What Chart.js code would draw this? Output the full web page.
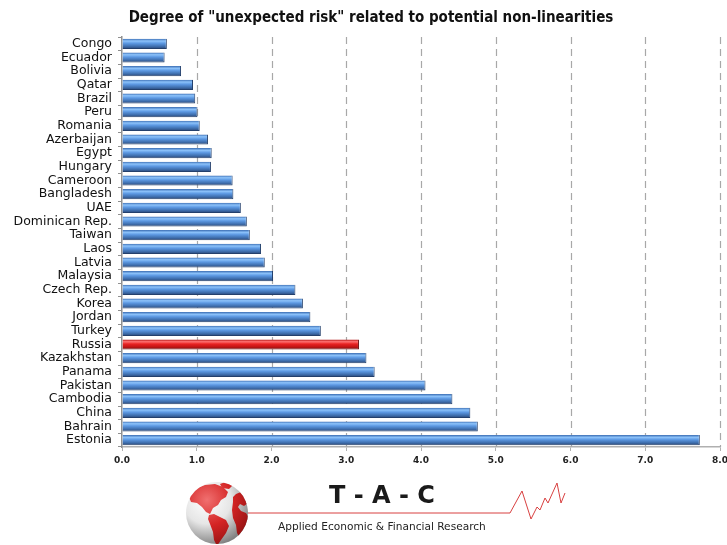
<!DOCTYPE html>
<html>
<head>
<meta charset="utf-8">
<script src="https://cdn.jsdelivr.net/npm/chart.js@4.4.1/dist/chart.umd.min.js"></script>
<style>
    /* page frame */
    html, body { margin: 0; padding: 0; background: #fff; }
    #wrap { position: relative; width: 727px; height: 545px; overflow: hidden; }
    #wrap canvas { position: absolute; left: 0; top: 0; }
    /* title and logo block */
    .title { position: absolute; left: 0; top: 8px; width: 742px; text-align: center; font: bold 15px 'DejaVu Sans Condensed', 'DejaVu Sans', sans-serif; color: #111; white-space: nowrap; }
    .logo-art { position: absolute; left: 0; top: 0; width: 727px; height: 545px; pointer-events: none; }
    .tac { position: absolute; left: 329px; top: 481px; font: bold 24px 'DejaVu Sans', sans-serif; color: #1a1a1a; white-space: pre; }
    .sub { position: absolute; left: 278px; top: 520px; font: 10.6px 'DejaVu Sans', sans-serif; color: #222; white-space: nowrap; }
</style>
</head>
<body>
<div id="wrap">
    <canvas id="riskChart" width="727" height="545"></canvas>
    <div class="title">Degree of "unexpected risk" related to potential non-linearities</div>
    <svg class="logo-art" width="727" height="545" viewBox="0 0 727 545">
        <defs>
            <radialGradient id="globeFill" gradientUnits="userSpaceOnUse" cx="207" cy="500" r="48">
                <stop offset="0" stop-color="#ffffff"/>
                <stop offset="0.5" stop-color="#e6e6e6"/>
                <stop offset="1" stop-color="#7a7a7a"/>
            </radialGradient>
            <radialGradient id="landFill" gradientUnits="userSpaceOnUse" cx="207" cy="500" r="52">
                <stop offset="0" stop-color="#f07070"/>
                <stop offset="0.5" stop-color="#d42424"/>
                <stop offset="1" stop-color="#8a1010"/>
            </radialGradient>
            <clipPath id="globeClip"><circle cx="217" cy="513" r="31"/></clipPath>
        </defs>
        <line x1="247" y1="513" x2="510" y2="513" stroke="#d84040" stroke-width="1"/>
        <polyline points="510,513 522,491 531,519 537,507 540,510 545,498 548,503 557,483 561,503 565,493"
                  fill="none" stroke="#d84040" stroke-width="1"/>
        <circle cx="217" cy="513" r="31" fill="url(#globeFill)"/>
        <g clip-path="url(#globeClip)" fill="url(#landFill)">
            <polygon points="189,497 195,489 205,485 215,484 223,487 228,492 226,497 221,500 218,505 213,508 210,514 206,512 202,507 197,503 191,502"/>
            <polygon points="220,484 228,481 233,485 229,489 222,488"/>
            <polygon points="209,515 214,514 220,517 226,520 229,526 226,533 221,540 217,546 214,540 213,532 210,524 208,519"/>
            <polygon points="236,494 241,492 246,497 248,503 244,506 240,504 238,507 241,511 246,513 249,518 247,526 243,533 240,538 237,533 236,525 233,518 232,510 233,502 233,497"/>
        </g>
    </svg>
    <div class="tac">T - A - C</div>
    <div class="sub">Applied Economic &amp; Financial Research</div>
</div>
<script>
    // data
    const countries = ['Congo', 'Ecuador', 'Bolivia', 'Qatar', 'Brazil', 'Peru', 'Romania', 'Azerbaijan',
        'Egypt', 'Hungary', 'Cameroon', 'Bangladesh', 'UAE', 'Dominican Rep.', 'Taiwan', 'Laos', 'Latvia',
        'Malaysia', 'Czech Rep.', 'Korea', 'Jordan', 'Turkey', 'Russia', 'Kazakhstan', 'Panama', 'Pakistan',
        'Cambodia', 'China', 'Bahrain', 'Estonia'];
    const riskValues = [0.60, 0.57, 0.79, 0.95, 0.98, 1.01, 1.04, 1.15,
        1.20, 1.19, 1.48, 1.49, 1.59, 1.67, 1.71, 1.86, 1.91,
        2.02, 2.32, 2.42, 2.52, 2.66, 3.17, 3.27, 3.38, 4.06,
        4.42, 4.66, 4.76, 7.73];
    const highlighted = 'Russia';
    const xMin = 0, xMax = 8, xStep = 1;

    const BAR_PCT = 0.74;

    // cylinder-like shading, built per bar from the category scale
    function barFill(c) {
        const red = countries[c.dataIndex] === highlighted;
        const flat = red ? '#d81818' : '#4a86d0';
        const y = c.chart.scales && c.chart.scales.y;
        if (!y || y.top === undefined || y.bottom === undefined) return flat;
        const band = (y.bottom - y.top) / countries.length;
        const h = band * BAR_PCT;
        const cy = y.getPixelForValue(c.dataIndex);
        if (!isFinite(cy)) return flat;
        const g = c.chart.ctx.createLinearGradient(0, cy - h / 2, 0, cy + h / 2);
        if (red) {
            g.addColorStop(0, '#b01010');
            g.addColorStop(0.22, '#ff7070');
            g.addColorStop(0.45, '#e82222');
            g.addColorStop(0.75, '#c01414');
            g.addColorStop(1, '#701010');
        } else {
            g.addColorStop(0, '#3d6fb4');
            g.addColorStop(0.22, '#8cc2fa');
            g.addColorStop(0.45, '#5c98e2');
            g.addColorStop(0.75, '#3f6fae');
            g.addColorStop(1, '#2a4676');
        }
        return g;
    }

    const ctx = document.getElementById('riskChart').getContext('2d');
    window.myRiskChart = new Chart(ctx, {
        type: 'bar',
        data: {
            labels: countries,
            datasets: [{
                label: 'Risk',
                data: riskValues,
                backgroundColor: barFill,
                borderColor: (c) => countries[c.dataIndex] === highlighted ? '#6a0c0c' : '#24406c',
                borderWidth: { top: 0, right: 1, bottom: 1, left: 0 },
                borderSkipped: 'left',
                categoryPercentage: 1,
                barPercentage: BAR_PCT
            }]
        },
        options: {
            indexAxis: 'y',
            responsive: false,
            animation: false,
            layout: { padding: { left: 0, right: 7, top: 37, bottom: 75 } },
            plugins: {
                legend: { display: false },
                tooltip: { enabled: false },
                title: { display: false }
            },
            scales: {
                x: {
                    min: xMin,
                    max: xMax,
                    afterFit: (s) => { s.height = 23; s.paddingRight = 0; s.paddingLeft = 0; },
                    ticks: {
                        stepSize: xStep,
                        color: '#222',
                        padding: 4,
                        font: { family: "'DejaVu Sans', sans-serif", size: 9, weight: 'bold' },
                        callback: (v) => Number(v).toFixed(1)
                    },
                    grid: {
                        drawOnChartArea: false,
                        tickLength: 4,
                        color: '#b0b0b0'
                    },
                    border: { display: true, color: '#b0b0b0', dash: [7, 4], width: 1.5 }
                },
                y: {
                    afterFit: (s) => { s.width = 122; },
                    ticks: {
                        color: '#111',
                        autoSkip: false,
                        padding: 6,
                        font: { family: "'DejaVu Sans', sans-serif", size: 12.5 }
                    },
                    grid: {
                        drawOnChartArea: false,
                        drawTicks: true,
                        tickLength: 4,
                        color: '#909090'
                    },
                    border: { display: true, color: '#909090', width: 1.5 }
                }
            }
        },
        plugins: [{
            // dashed vertical grid lines
            id: 'dashGrid',
            beforeDatasetsDraw(chart) {
                const { ctx, chartArea, scales } = chart;
                ctx.save();
                ctx.strokeStyle = '#a8a8a8';
                ctx.lineWidth = 1.2;
                ctx.setLineDash([7, 5]);
                for (let v = xMin + xStep; v <= xMax; v += xStep) {
                    const px = Math.round(scales.x.getPixelForValue(v)) + 0.5;
                    ctx.beginPath();
                    ctx.moveTo(px, chartArea.top);
                    ctx.lineTo(px, chartArea.bottom);
                    ctx.stroke();
                }
                ctx.restore();
            }
        }]
    });
</script>
</body>
</html>
